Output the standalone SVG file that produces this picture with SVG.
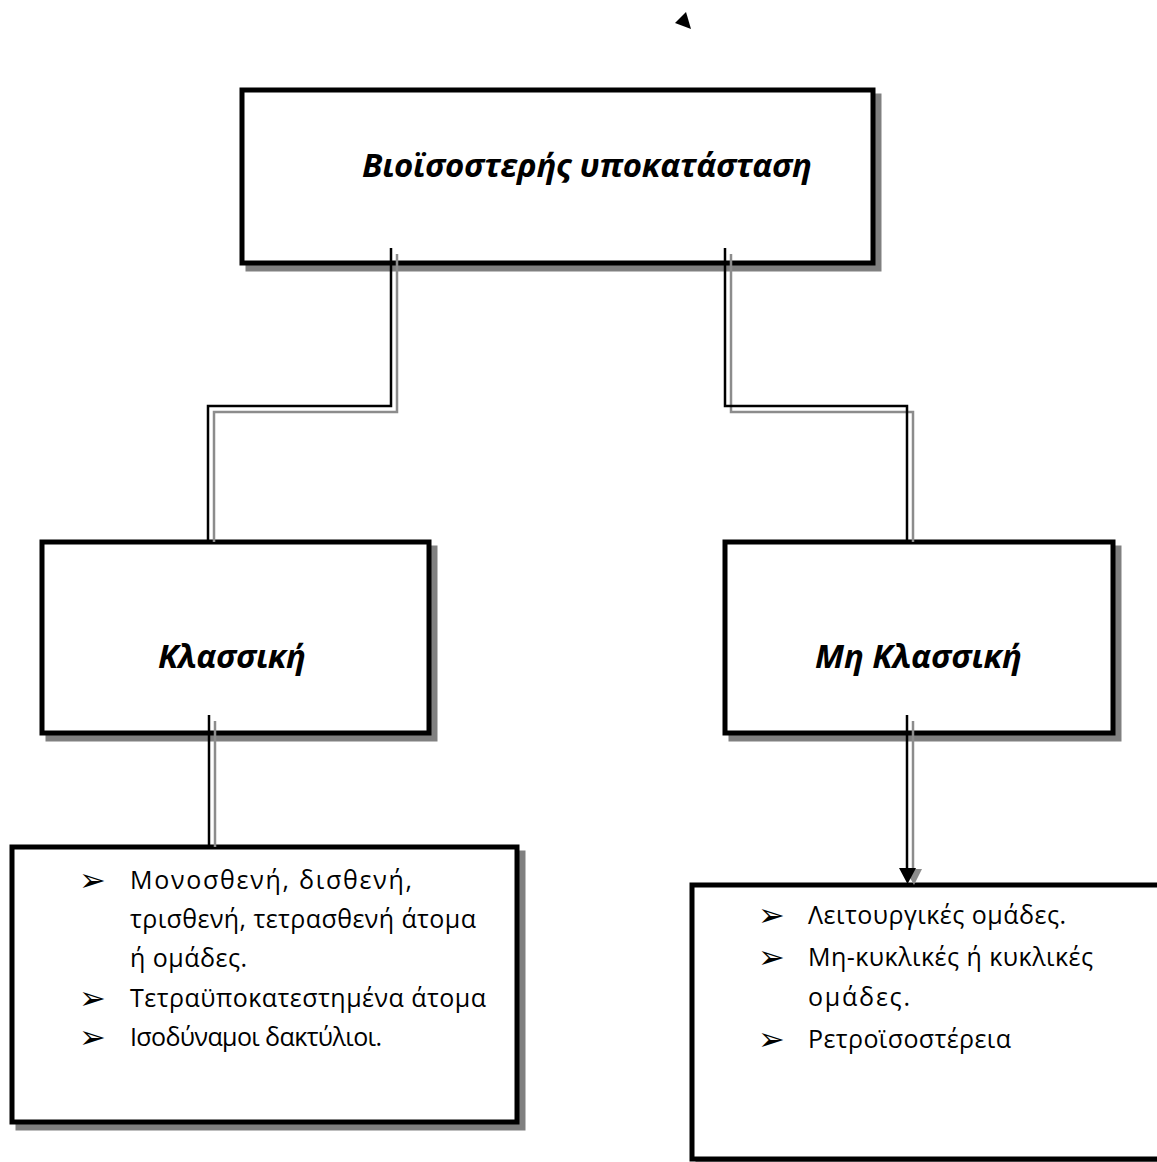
<svg xmlns="http://www.w3.org/2000/svg" width="1157" height="1162" viewBox="0 0 1157 1162">
<style>
.shadow{fill:#808080;stroke:#808080;stroke-width:5}
.box{fill:#ffffff;stroke:#000000;stroke-width:5}
.title{font-family:"Open Sans","Noto Sans",sans-serif;font-weight:bold;font-style:italic;font-size:33px;fill:#000}
.item{font-family:"Open Sans","Noto Sans",sans-serif;font-size:25px;fill:#000}
.bullet{font-family:"DejaVu Sans",sans-serif;font-size:32px;fill:#000}
.lk{fill:none;stroke:#000;stroke-width:2.5}
.lg{fill:none;stroke:#8c8c8c;stroke-width:2.5}
</style>
<rect width="1157" height="1162" fill="#ffffff"/>
<polygon points="675,23 686,12 691,29" fill="#000"/>
<g id="node-root">
<rect class="shadow" x="248" y="96" width="631" height="173"/>
<rect class="box" x="242" y="90" width="631" height="173"/>
<text class="title" x="362" y="177" textLength="450">Βιοϊσοστερής υποκατάσταση</text>
</g>
<g id="node-classic">
<rect class="shadow" x="48" y="548" width="387" height="191"/>
<rect class="box" x="42" y="542" width="387" height="191"/>
<text class="title" x="158" y="668" textLength="148">Κλασσική</text>
</g>
<g id="node-nonclassic">
<rect class="shadow" x="731" y="548" width="388" height="191"/>
<rect class="box" x="725" y="542" width="388" height="191"/>
<text class="title" x="815" y="668" textLength="207">Μη Κλασσική</text>
</g>
<g id="node-classic-list">
<rect class="shadow" x="18" y="853" width="505" height="275"/>
<rect class="box" x="12" y="847" width="505" height="275"/>
<text class="bullet" x="79" y="891">➢</text>
<text class="item" x="130" y="889" textLength="282">Μονοσθενή, δισθενή,</text>
<text class="item" x="130" y="928" textLength="346">τρισθενή, τετρασθενή άτομα</text>
<text class="item" x="130" y="967" textLength="117">ή ομάδες.</text>
<text class="bullet" x="79" y="1009">➢</text>
<text class="item" x="130" y="1007" textLength="356">Τετραϋποκατεστημένα άτομα</text>
<text class="bullet" x="79" y="1048">➢</text>
<text class="item" x="130" y="1046" textLength="252">Ισοδύναμοι δακτύλιοι.</text>
</g>
<g id="node-nonclassic-list">
<rect class="shadow" x="698" y="891" width="500" height="300"/>
<rect class="box" x="692" y="885" width="500" height="274"/>
<text class="bullet" x="758" y="926">➢</text>
<text class="item" x="808" y="924" textLength="258">Λειτουργικές ομάδες.</text>
<text class="bullet" x="758" y="968">➢</text>
<text class="item" x="808" y="966" textLength="285">Μη-κυκλικές ή κυκλικές</text>
<text class="item" x="808" y="1006" textLength="102">ομάδες.</text>
<text class="bullet" x="758" y="1050">➢</text>
<text class="item" x="808" y="1048" textLength="203">Ρετροϊσοστέρεια</text>
</g>
<g id="connectors">
<path class="lg" d="M397,254 V412 H214 V542"/>
<path class="lk" d="M391,248 V406 H208 V542"/>
<path class="lg" d="M731,254 V412 H913 V542"/>
<path class="lk" d="M725,248 V406 H907 V542"/>
<path class="lg" d="M215,721 V847"/>
<path class="lk" d="M209,715 V847"/>
<path class="lg" d="M913,721 V870"/>
<polygon points="905,869 922,869 914,885" fill="#8c8c8c"/>
<path class="lk" d="M907,715 V870"/>
<polygon points="899,868 916,868 907.5,884" fill="#000"/>
</g>
</svg>
